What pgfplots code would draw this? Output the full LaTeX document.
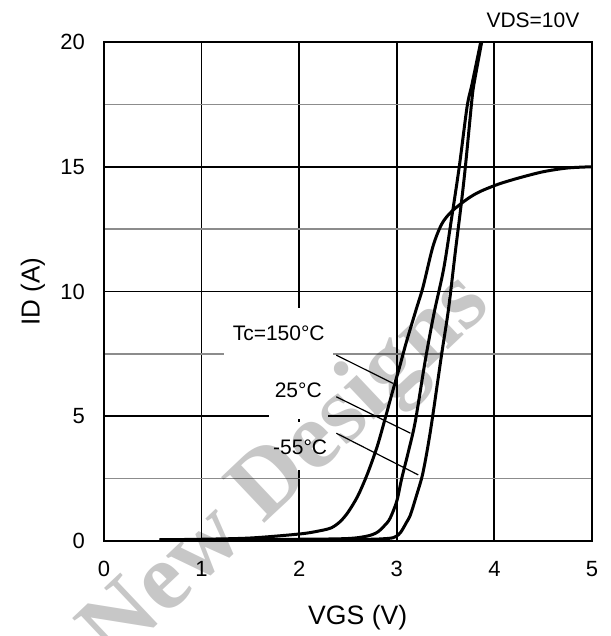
\documentclass[border=0pt]{standalone}
\usepackage{fontspec}
\setmainfont{Liberation Sans}
\newfontfamily\wmfont{Liberation Serif}
\usepackage{pgfplots}
\pgfplotsset{compat=1.18}
\begin{document}
\begin{tikzpicture}
\useasboundingbox (-52pt,-47.5pt) rectangle (253pt,270.5pt);
\begin{axis}[
  at={(0,0)}, anchor=south west,
  scale only axis, width=244pt, height=249.5pt,
  xmin=0, xmax=5, ymin=0, ymax=20,
  xtick={0,1,2,3,4,5}, ytick={0,5,10,15,20},
  minor ytick={2.5,7.5,12.5,17.5},
  grid=both,
  major grid style={black, line width=0.9pt},
  minor grid style={black!45, line width=0.8pt},
  axis line style={black, line width=1pt},
  major tick length=0pt, minor tick length=0pt,
  /pgf/number format/assume math mode=true,
  ticklabel style={font=\fontsize{11}{13}\selectfont},
  yticklabel style={xshift=-6pt},
  xticklabel style={yshift=-6.5pt},
  xlabel={VGS (V)}, ylabel={ID (A)},
  every axis x label/.style={at={(axis description cs:0.52,-0.1543)}, anchor=center, font=\fontsize{13.3}{15}\selectfont},
  every axis y label/.style={at={(axis description cs:-0.1455,0.5)}, rotate=90, anchor=center, font=\fontsize{13}{15}\selectfont},
  clip=false,
]
% white boxes behind the labels
\fill[white] (axis cs:1.23,7.0) rectangle (axis cs:2.35,9.34);
\fill[white] (axis cs:1.69,4.9) rectangle (axis cs:2.29,7.0);
\fill[white] (axis cs:1.60,2.85) rectangle (axis cs:2.35,4.75);

% Tc = 150 C
\addplot[black, line width=1.5pt, smooth, tension=0.5, line join=round] coordinates {
(0.57,0.05) (1.0,0.07) (1.5,0.12) (2.0,0.28) (2.2,0.40) (2.33,0.53) (2.42,0.78)
(2.5,1.15) (2.6,1.8) (2.7,2.7) (2.8,3.8) (2.88,4.9) (2.95,5.9) (3.03,7.0)
(3.1,8.0) (3.2,9.3) (3.27,10.2) (3.37,11.8) (3.46,12.7) (3.56,13.2) (3.72,13.7)
(3.85,14.0) (4.04,14.3) (4.25,14.55) (4.5,14.8) (4.75,14.95) (5.0,15.0)
};
% Tc = 25 C
\addplot[black, line width=1.5pt, smooth, tension=0.5, line join=round] coordinates {
(0.57,0.05) (2.0,0.07) (2.5,0.1) (2.7,0.2) (2.8,0.35) (2.87,0.6) (2.93,0.9)
(3.0,1.6) (3.05,2.5) (3.12,3.6) (3.19,4.8) (3.29,7.2) (3.38,9.1) (3.48,10.9)
(3.56,12.9) (3.64,15.0) (3.72,17.4) (3.77,18.3) (3.86,20)
};
% Tc = -55 C
\addplot[black, line width=1.5pt, smooth, tension=0.5, line join=round] coordinates {
(0.57,0.05) (2.5,0.06) (2.9,0.1) (2.99,0.18) (3.04,0.35) (3.1,0.75) (3.14,1.05)
(3.2,1.8) (3.26,2.6) (3.31,3.6) (3.36,4.8) (3.46,7.5) (3.53,9.3) (3.60,11.6)
(3.66,13.5) (3.70,14.9) (3.74,16.5) (3.77,17.7) (3.79,18.3) (3.87,20)
};

\draw[black, line width=0.6pt] (axis cs:2.38,7.45) -- (axis cs:2.96,6.32);
\draw[black, line width=0.6pt] (axis cs:2.38,5.78) -- (axis cs:3.14,4.32);
\draw[black, line width=0.6pt] (axis cs:2.38,4.32) -- (axis cs:3.22,2.65);

\node[font=\fontsize{10.5}{12}\selectfont, inner sep=0pt] at (axis cs:1.79,8.34) {Tc=150°C};
\node[font=\fontsize{10.5}{12}\selectfont, inner sep=0pt] at (axis cs:1.99,6.05) {25°C};
\node[font=\fontsize{10.5}{12}\selectfont, inner sep=0pt] at (axis cs:2.01,3.77) {-55°C};
\node[font=\fontsize{10.5}{12}\selectfont, inner sep=0pt] at (rel axis cs:0.879,1.044) {VDS=10V};
\end{axis}
\begin{scope}[blend mode=multiply]
\node[rotate=43.4, text=black!22, inner sep=0pt, font=\wmfont\bfseries\fontsize{48}{50}\selectfont] at (92pt,35.5pt) {New Designs};
\end{scope}
\end{tikzpicture}
\end{document}
